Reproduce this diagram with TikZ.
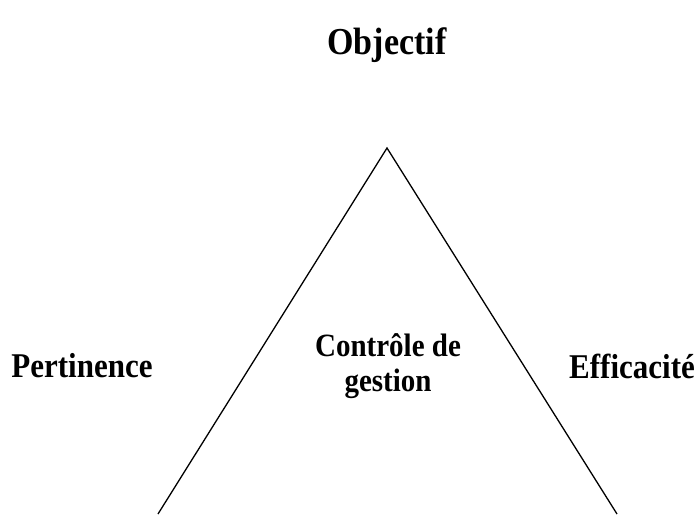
\documentclass[tikz,border=0pt]{standalone}
\usepackage{fontspec}
\setmainfont{Liberation Serif}
\usepackage{graphicx}
\usepackage{tikz}
\usetikzlibrary{positioning,calc}

\newcommand{\tallword}[1]{\scalebox{1}[1.12]{#1}}

\tikzset{
  axislabel/.style={font=\fontsize{31}{33}\selectfont\bfseries, inner sep=0pt},
  sideline/.style={draw=black, line width=1.3pt}
}

\begin{document}
\begin{tikzpicture}[x=1pt,y=-1pt]
  \useasboundingbox (0,0) rectangle (696,514);
  % triangle
  \coordinate (apex) at (387,148);
  \coordinate (baseL) at (158,514);
  \coordinate (baseR) at (617,514);
  \draw[sideline] (baseL) -- (apex) -- (baseR);
  % labels
  \node[axislabel, font=\fontsize{34}{38}\selectfont\bfseries] (objectif) at (387,45) {\tallword{Objectif}};
  \node[axislabel] (pertinence) at (82,366) {\tallword{Pertinence}};
  \node[axislabel] (efficacite) at (632,366) {\tallword{Efficacité}};
  \node[axislabel, align=center, font=\fontsize{29}{35}\selectfont\bfseries] (cdg) at (388,366) {\tallword{Contrôle de}\\\tallword{gestion}};
\end{tikzpicture}
\end{document}
